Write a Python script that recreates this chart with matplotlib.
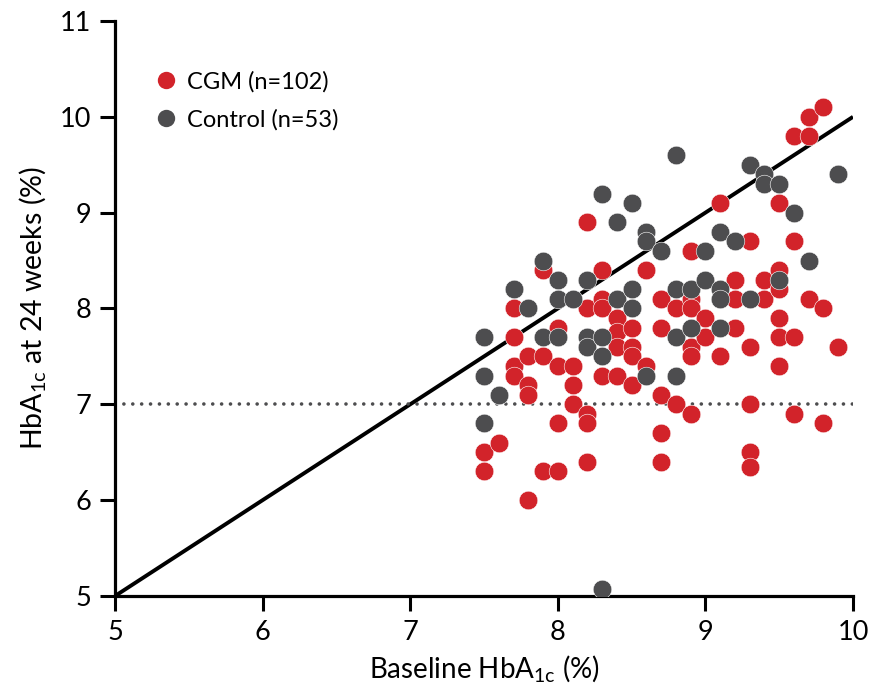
import matplotlib
matplotlib.use("Agg")
import matplotlib.pyplot as plt
from matplotlib.lines import Line2D

plt.rcParams["font.family"] = ["Lato", "DejaVu Sans"]
plt.rcParams["mathtext.fontset"] = "custom"
plt.rcParams["mathtext.rm"] = "Lato"
plt.rcParams["mathtext.it"] = "Lato"
plt.rcParams["mathtext.bf"] = "Lato:bold"

# Baseline vs 24-week HbA1c (%) per participant
cgm_baseline = [7.5, 7.5, 7.6, 7.7, 7.7, 7.7, 7.7, 7.8, 7.8, 7.8, 7.8, 7.9, 7.9, 7.9,
                8.0, 8.0, 8.0, 8.0, 8.1, 8.1, 8.1, 8.2, 8.2, 8.2, 8.2, 8.2,
                8.3, 8.3, 8.3, 8.3, 8.4, 8.4, 8.4, 8.4, 8.5, 8.5, 8.5, 8.5, 8.6, 8.6,
                8.7, 8.7, 8.7, 8.7, 8.7, 8.8, 8.8, 8.9, 8.9, 8.9, 8.9, 8.9, 8.9,
                9.0, 9.0, 9.1, 9.1, 9.2, 9.2, 9.2, 9.3, 9.3, 9.3, 9.3, 9.3, 9.4, 9.4,
                9.5, 9.5, 9.5, 9.5, 9.5, 9.5, 9.6, 9.6, 9.6, 9.6, 9.7, 9.7, 9.7,
                9.8, 9.8, 9.8, 9.9]
cgm_week24 = [6.5, 6.3, 6.6, 8.0, 7.7, 7.4, 7.3, 7.5, 7.2, 7.1, 6.0, 8.4, 7.5, 6.3,
              7.8, 7.4, 6.8, 6.3, 7.4, 7.2, 7.0, 8.9, 8.0, 6.9, 6.8, 6.4,
              8.4, 8.1, 8.0, 7.3, 7.9, 7.75, 7.6, 7.3, 7.8, 7.6, 7.5, 7.2, 8.4, 7.4,
              8.1, 7.8, 7.1, 6.7, 6.4, 8.0, 7.0, 8.6, 8.1, 8.0, 7.6, 7.5, 6.9,
              7.9, 7.7, 9.1, 7.5, 8.3, 8.1, 7.8, 8.7, 7.6, 7.0, 6.5, 6.35, 8.3, 8.1,
              9.1, 8.4, 8.2, 7.9, 7.7, 7.4, 9.8, 8.7, 7.7, 6.9, 10.0, 9.8, 8.1,
              10.1, 8.0, 6.8, 7.6]

ctrl_baseline = [7.5, 7.5, 7.5, 7.6, 7.7, 7.8, 7.9, 7.9, 8.0, 8.0, 8.0, 8.1,
                 8.2, 8.2, 8.2, 8.3, 8.3, 8.3, 8.3, 8.4, 8.4, 8.5, 8.5, 8.5,
                 8.6, 8.6, 8.6, 8.7, 8.8, 8.8, 8.8, 8.8, 8.9, 8.9, 9.0, 9.0,
                 9.1, 9.1, 9.1, 9.1, 9.2, 9.3, 9.3, 9.4, 9.4, 9.5, 9.5, 9.6,
                 9.7, 9.9]
ctrl_week24 = [7.7, 7.3, 6.8, 7.1, 8.2, 8.0, 8.5, 7.7, 8.3, 8.1, 7.7, 8.1,
               8.3, 7.7, 7.6, 9.2, 7.7, 7.5, 5.07, 8.9, 8.1, 9.1, 8.2, 8.0,
               8.8, 8.7, 7.3, 8.6, 9.6, 8.2, 7.7, 7.3, 8.2, 7.8, 8.6, 8.3,
               8.8, 8.2, 8.1, 7.8, 8.7, 9.5, 8.1, 9.4, 9.3, 9.3, 8.3, 9.0,
               8.5, 9.4]

x_ticks = [5, 6, 7, 8, 9, 10]
y_ticks = [5, 6, 7, 8, 9, 10, 11]
target = 7.0

RED = "#D2232A"
GREY = "#4D4D4F"

fig = plt.figure(figsize=(8.73, 6.93), dpi=100)
ax = fig.add_axes([115 / 873, 97 / 693, 738 / 873, 575 / 693])

# line of identity and HbA1c target
ax.plot([5, 10], [5, 10], color="black", lw=2.8, solid_capstyle="butt", zorder=2)
ax.plot([5, 10], [target, target], color=GREY, lw=2.6,
        linestyle=(0, (0.01, 2.45)), dash_capstyle="round", zorder=2)

ax.scatter(cgm_baseline, cgm_week24, s=180, color=RED, edgecolors="white",
           linewidths=0.4, zorder=3)
ax.scatter(ctrl_baseline, ctrl_week24, s=180, color=GREY, edgecolors="white",
           linewidths=0.4, zorder=4)

ax.set_xlim(5, 10)
ax.set_ylim(5, 11)
ax.set_xticks(x_ticks)
ax.set_yticks(y_ticks)
ax.tick_params(axis="both", direction="out", length=11, width=2.2,
               labelsize=19.5, color="black", pad=6)
for side in ("top", "right"):
    ax.spines[side].set_visible(False)
for side in ("left", "bottom"):
    ax.spines[side].set_linewidth(2.3)

ax.set_xlabel(r"Baseline HbA$_{\mathrm{1c}}$ (%)", fontsize=20, labelpad=6)
ax.set_ylabel(r"HbA$_{\mathrm{1c}}$ at 24 weeks (%)", fontsize=20.5, labelpad=9)

handles = [
    Line2D([], [], marker="o", linestyle="none", markersize=12.5,
           markerfacecolor=RED, markeredgecolor="none", label="CGM (n=102)"),
    Line2D([], [], marker="o", linestyle="none", markersize=12.5,
           markerfacecolor=GREY, markeredgecolor="none", label="Control (n=53)"),
]
ax.legend(handles=handles, loc="upper left", bbox_to_anchor=(0.053, 0.913),
          frameon=False, fontsize=17, handletextpad=0.38, labelspacing=0.69,
          borderaxespad=0, borderpad=0, handlelength=1.0)

fig.savefig("out.png", dpi=100)
